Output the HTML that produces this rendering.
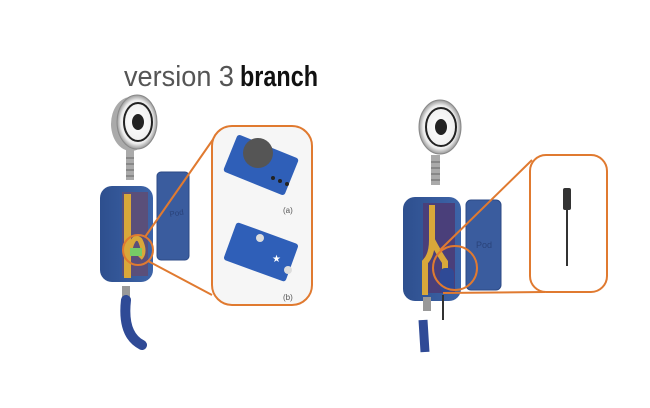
<!DOCTYPE html>
<html><head><style>body{margin:0;background:#fff}svg{display:block}</style></head><body>
<svg width="650" height="408" viewBox="0 0 650 408" xmlns="http://www.w3.org/2000/svg">
<defs>
<radialGradient id="disc" cx="0.5" cy="0.5" r="0.5"><stop offset="0" stop-color="#fff"/><stop offset="0.8" stop-color="#eee"/><stop offset="1" stop-color="#999"/></radialGradient>
<linearGradient id="blue" x1="0" x2="1"><stop offset="0" stop-color="#2e4f8e"/><stop offset="1" stop-color="#3d64a8"/></linearGradient>
</defs>
<text x="124" y="86" font-family="Liberation Sans Narrow, Liberation Sans, sans-serif" font-size="29" fill="#555" textLength="110" lengthAdjust="spacingAndGlyphs">version 3</text>
<text x="240" y="86" font-family="Liberation Sans Narrow, Liberation Sans, sans-serif" font-size="29" font-weight="bold" fill="#111" textLength="78" lengthAdjust="spacingAndGlyphs">branch</text>

<!-- LEFT device -->
<ellipse cx="131" cy="124" rx="20" ry="27" fill="#aaa"/>
<ellipse cx="137" cy="122" rx="20" ry="27" fill="url(#disc)" stroke="#888"/>
<ellipse cx="138" cy="122" rx="14" ry="19" fill="none" stroke="#222" stroke-width="2"/>
<ellipse cx="138" cy="122" rx="6" ry="8" fill="#222"/>
<rect x="126" y="150" width="8" height="30" fill="#aaa"/>
<path d="M126 158h8M126 164h8M126 170h8M126 176h8" stroke="#666"/>
<rect x="100" y="186" width="53" height="96" rx="12" fill="url(#blue)"/>
<rect x="122" y="192" width="26" height="84" fill="#5a4f7a"/>
<rect x="124" y="194" width="7" height="84" fill="#d9a83a"/>
<path d="M128 260 Q132 232 140 240 Q146 252 140 258" stroke="#d9a83a" stroke-width="5" fill="none"/>
<rect x="130" y="248" width="12" height="8" fill="#7c6"/>
<rect x="157" y="172" width="32" height="88" rx="4" fill="#3a5c9e" stroke="#2c4a86"/>
<text x="170" y="217" font-family="Liberation Sans, sans-serif" font-size="8" fill="#2a437a" transform="rotate(-10 170 217)">Pod</text>
<rect x="122" y="286" width="8" height="14" fill="#999"/>
<path d="M126 300 Q122 335 142 345" stroke="#2f4a96" stroke-width="10" fill="none" stroke-linecap="round"/>
<circle cx="138" cy="250" r="15" fill="none" stroke="#e07a30" stroke-width="2"/>
<path d="M145 237 L214 138 M148 261 L212 295" stroke="#e07a30" stroke-width="2"/>
<rect x="212" y="126" width="100" height="179" rx="20" fill="#f6f6f6" stroke="#e07a30" stroke-width="2"/>
<rect x="228" y="145" width="66" height="40" rx="3" fill="#2f5fb8" transform="rotate(22 261 165)"/>
<circle cx="258" cy="153" r="15" fill="#555"/>
<circle cx="287" cy="184" r="2" fill="#222"/><circle cx="280" cy="181" r="2" fill="#222"/><circle cx="273" cy="178" r="2" fill="#222"/>
<text x="283" y="213" font-family="Liberation Sans, sans-serif" font-size="8" fill="#555">(a)</text>
<rect x="228" y="232" width="66" height="40" rx="3" fill="#2f5fb8" transform="rotate(20 261 252)"/>
<circle cx="260" cy="238" r="4" fill="#ddd"/><circle cx="288" cy="270" r="4" fill="#ddd"/>
<text x="272" y="262" font-family="Liberation Sans, sans-serif" font-size="10" fill="#fff">★</text>
<text x="283" y="300" font-family="Liberation Sans, sans-serif" font-size="8" fill="#555">(b)</text>

<!-- RIGHT device -->
<ellipse cx="440" cy="127" rx="21" ry="27" fill="url(#disc)" stroke="#888"/>
<ellipse cx="441" cy="127" rx="15" ry="19" fill="none" stroke="#222" stroke-width="2"/>
<ellipse cx="441" cy="127" rx="6" ry="8" fill="#222"/>
<rect x="431" y="155" width="9" height="30" fill="#aaa"/>
<path d="M431 162h9M431 168h9M431 174h9M431 180h9" stroke="#666"/>
<rect x="403" y="197" width="58" height="104" rx="12" fill="url(#blue)"/>
<rect x="423" y="203" width="32" height="90" fill="#4a3f7a"/>
<path d="M432 205 V240 Q432 255 425 262 V295 M432 240 Q440 255 445 262 V290" stroke="#d9a83a" stroke-width="6" fill="none"/>
<rect x="440" y="268" width="14" height="24" rx="5" fill="#2f4a96"/>
<rect x="466" y="200" width="35" height="90" rx="5" fill="#3a5c9e" stroke="#2c4a86"/>
<text x="476" y="248" font-family="Liberation Sans, sans-serif" font-size="9" fill="#2a437a">Pod</text>
<rect x="423" y="297" width="8" height="14" fill="#999"/>
<line x1="443" y1="295" x2="443" y2="320" stroke="#333" stroke-width="2"/>
<path d="M423 320 L425 352" stroke="#2f4a96" stroke-width="9"/>
<circle cx="455" cy="268" r="22" fill="none" stroke="#e07a30" stroke-width="2"/>
<path d="M440 250 L532 160 M443 293 L545 292" stroke="#e07a30" stroke-width="2"/>
<rect x="530" y="155" width="77" height="137" rx="16" fill="#fff" stroke="#e07a30" stroke-width="2"/>
<rect x="563" y="188" width="8" height="22" rx="2" fill="#333"/>
<line x1="567" y1="210" x2="567" y2="266" stroke="#333" stroke-width="2"/>
</svg>
</body></html>
